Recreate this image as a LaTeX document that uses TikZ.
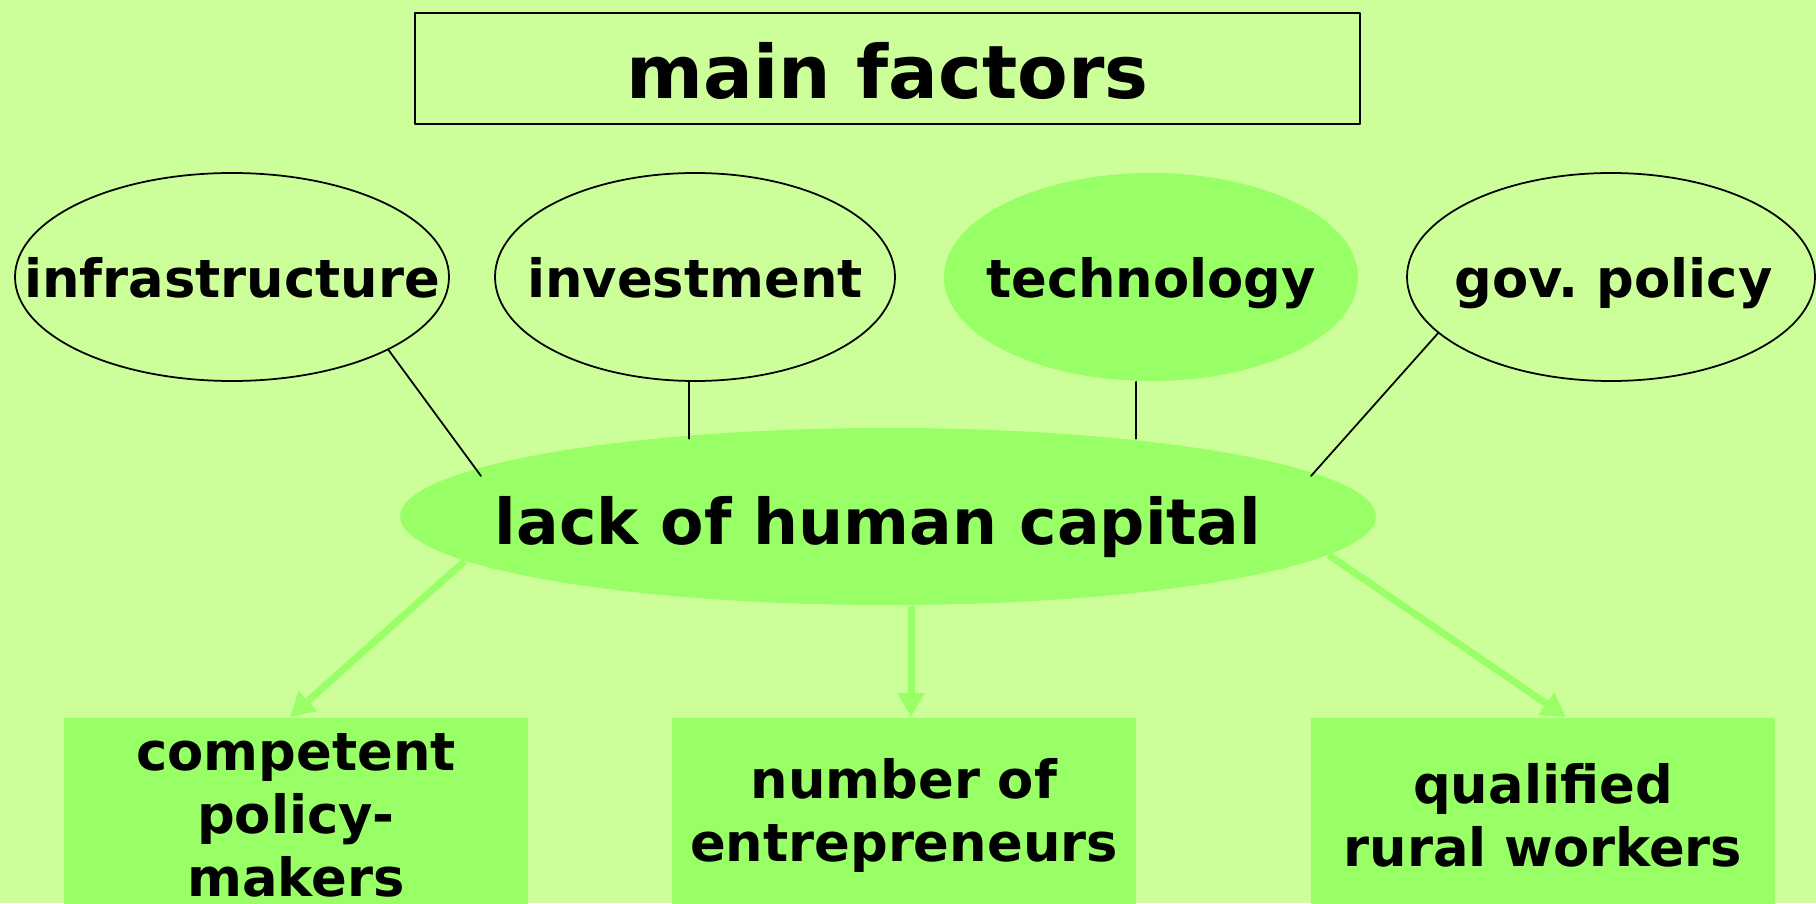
\documentclass[tikz,border=0pt]{standalone}
\usepackage{fontspec}
\setmainfont{DejaVu Sans}
\usetikzlibrary{shapes.geometric,arrows.meta}
\definecolor{nen}{HTML}{CCFF99}
\definecolor{xanh}{HTML}{99FF66}
\begin{document}
\begin{tikzpicture}[>={Triangle[width=0.26cm,length=0.24cm]}, line join=round, line cap=round,
    chunho/.style={font=\bfseries\frenchspacing\fontsize{15}{18}\selectfont, text height=11.8pt, text depth=0pt, inner sep=0pt},
    yeuto/.style={ellipse, line width=0.5pt, minimum width=#1, minimum height=2.08cm, inner sep=0pt},
    hop/.style={fill=xanh, anchor=north, minimum height=1.95cm, text width=4.64cm, inner sep=0pt, align=center,
        font=\bfseries\fontsize{15}{18}\selectfont},
    muiten/.style={->, draw=xanh, line width=0.07cm, line cap=butt}]
    % khung: 1816 x 903
    \def\xmax{18.16} \def\ymax{9.03}
    \fill[nen] (0,0) rectangle (\xmax,\ymax);
    \useasboundingbox (0,0) rectangle (\xmax,\ymax);
    % tieu de
    \node[draw, line width=0.6pt, minimum width=9.45cm, minimum height=1.11cm, inner sep=0pt,
        font=\bfseries\fontsize{21}{25}\selectfont, text height=17pt, text depth=0pt] (title) at (8.875,8.345) {main factors};
    % cac yeu to
    \foreach \ten/\x/\w/\ve/\to/\chu in {infra/2.32/4.34cm/black/nen/infrastructure,
        inv/6.95/4.0cm/black/nen/investment,
        tech/11.51/4.14cm/none/xanh/technology,
        gov/16.11/4.08cm/black/nen/{\hspace*{0.05cm}gov. policy}}
    \node[yeuto=\w, draw=\ve, fill=\to, label={[chunho]center:\chu}] (\ten) at (\x,6.26) {};
    % trung tam
    \node[ellipse, fill=xanh, minimum width=9.76cm, minimum height=1.77cm, inner sep=0pt] (hc) at (8.88,3.865) {};
    \node[font=\bfseries\fontsize{18}{22}\selectfont, text height=16.2pt, text depth=0pt, inner sep=0pt] (hctxt) at ([xshift=-0.1cm]hc.center) {lack of human capital};
    % duong noi
    \coordinate (a1) at ([xshift=-0.06cm]inv.south);
    \coordinate (a2) at ([xshift=-0.15cm]tech.south);
    \coordinate (b1) at ([shift={(-4.07,0.405)}]hc.center);
    \coordinate (b2) at ([shift={(4.23,0.405)}]hc.center);
    \draw[line width=0.5pt] (infra.-25)--(b1)
        (a1)--(a1 |- hc.162)
        (a2)--(a2 |- hc.18)
        (gov.198)--(b2);
    % ket qua
    \foreach \ten/\x/\chu in {comp/2.96/{competent\\policy-\\makers},
        ent/9.04/{number of\\entrepreneurs},
        rur/15.43/{qualified\\rural workers}}
    \node[hop] (\ten) at (\x,1.86) {\chu};
    \coordinate (m1) at ([xshift=0.07cm]ent.north);
    \draw[muiten] (hc.186.6)--([xshift=-0.06cm]comp.north);
    \draw[muiten] (m1 |- hc.south)--(m1);
    \draw[muiten] (hc.-5.4)--([xshift=0.23cm]rur.north);
\end{tikzpicture}
\end{document}
